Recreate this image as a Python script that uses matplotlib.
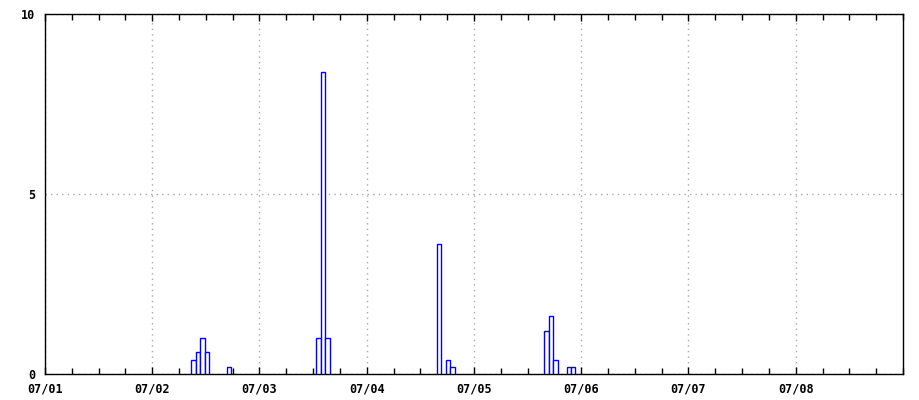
import matplotlib
matplotlib.use('Agg')
import matplotlib.pyplot as plt
from matplotlib.ticker import MultipleLocator

# hours since 07/01 00:00 and rainfall values
hours = [33, 34, 35, 36, 41, 61, 62, 63, 88, 90, 91, 112, 113, 114, 117, 118]
values = [0.4, 0.6, 1.0, 0.6, 0.2, 1.0, 8.4, 1.0, 3.6, 0.4, 0.2, 1.2, 1.6, 0.4, 0.2, 0.2]
day_labels = ['07/01', '07/02', '07/03', '07/04', '07/05', '07/06', '07/07', '07/08']

plt.rcParams['font.family'] = ['DejaVu Sans Mono']

fig = plt.figure(figsize=(9.2, 4.0), dpi=100)
ax = fig.add_axes([45 / 920, 26 / 400, 858 / 920, 360 / 400])

days = [(h + 0.2) / 24 for h in hours]
ax.bar(days, values, width=1 / 24, align='center', facecolor='white',
       edgecolor='#0000ff', linewidth=1.0, zorder=3)

ax.set_xlim(0, 8)
ax.set_ylim(0, 10)
ax.set_xticks(range(len(day_labels)))
ax.set_xticklabels(day_labels)
ax.xaxis.set_minor_locator(MultipleLocator(0.25))
ax.set_yticks([0, 5, 10])

ax.grid(True, which='major', linestyle=(0, (1, 3)), color='#aaaaaa', linewidth=1)
ax.set_axisbelow(True)

ax.tick_params(axis='both', which='both', direction='in', top=True, right=False,
               labelsize=8.5, width=1)
ax.tick_params(axis='x', which='major', length=5, pad=6)
ax.tick_params(axis='x', which='minor', length=4)
ax.tick_params(axis='y', length=0, pad=7)
for lab in ax.get_xticklabels() + ax.get_yticklabels():
    lab.set_fontweight('bold')

for s in ax.spines.values():
    s.set_linewidth(1)
    s.set_color('black')

fig.savefig('out.png', dpi=100, facecolor='white')
